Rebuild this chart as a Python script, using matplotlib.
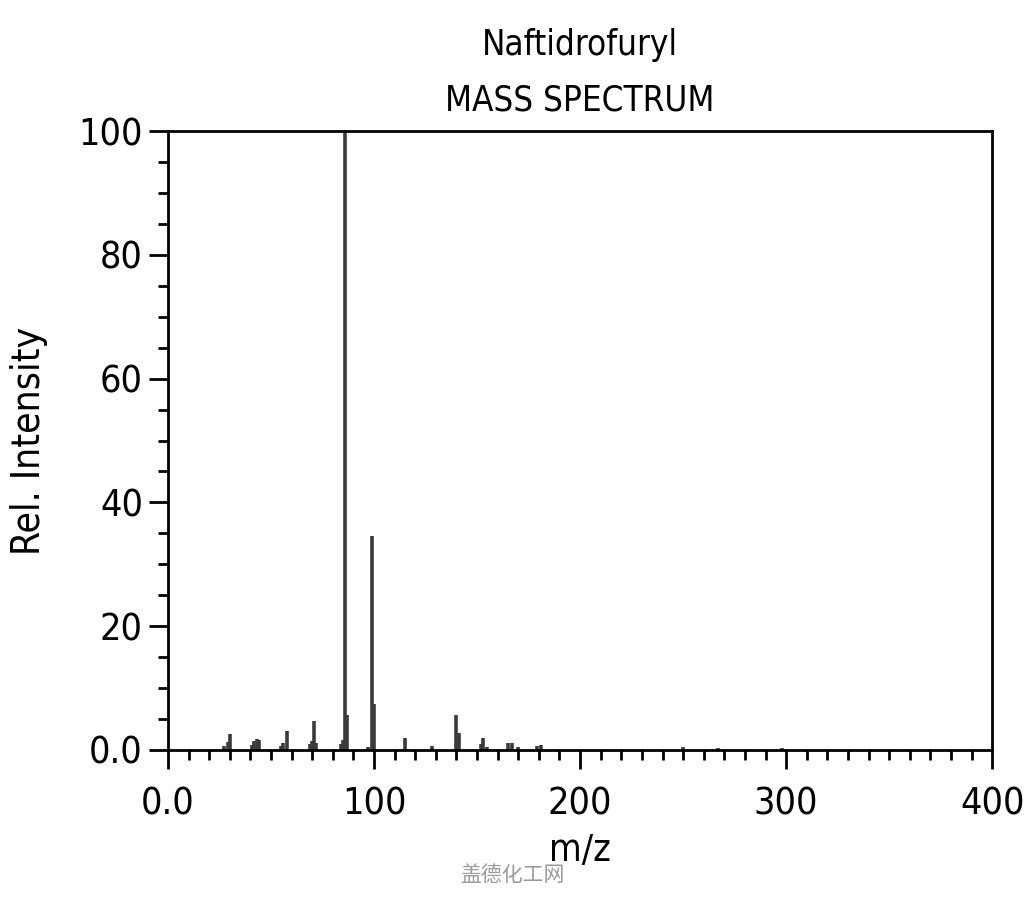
import matplotlib
matplotlib.use("Agg")
from matplotlib import pyplot as plt
from matplotlib.ticker import MultipleLocator

plt.rcParams["font.family"] = ["DejaVu Sans", "Noto Sans CJK SC"]
plt.rcParams["font.stretch"] = "condensed"

# peaks
mz = [27, 29, 30, 41, 42, 43, 44, 55, 56, 58, 69, 70, 71, 72, 84, 85, 86, 87,
      97, 99, 100, 115, 128, 140, 141, 152, 153, 155, 165, 167, 170, 179, 181,
      250, 267, 298]
intensity = [0.7, 1.3, 2.6, 0.8, 1.5, 1.8, 1.6, 0.7, 1.1, 3.1, 0.9, 1.4, 4.6, 1.2,
             1.0, 1.6, 100, 5.6, 0.5, 34.6, 7.4, 2.0, 0.6, 5.6, 2.7, 1.0, 2.0, 0.4,
             1.1, 1.1, 0.5, 0.7, 0.8, 0.4, 0.3, 0.3]

x_ticks = [0, 100, 200, 300, 400]
x_labels = ["0.0", "100", "200", "300", "400"]
y_ticks = [0, 20, 40, 60, 80, 100]
y_labels = ["0.0", "20", "40", "60", "80", "100"]

fig = plt.figure(figsize=(10.24, 9), dpi=100)
ax = fig.add_axes([0.164, 0.1667, 0.805, 0.6877])

ax.vlines(mz, 0, intensity, color="#3a3a3a", linewidth=2.6)

ax.set_xlim(0, 400)
ax.set_ylim(0, 100)
ax.set_xticks(x_ticks)
ax.set_xticklabels(x_labels)
ax.set_yticks(y_ticks)
ax.set_yticklabels(y_labels)
ax.xaxis.set_minor_locator(MultipleLocator(10))
ax.yaxis.set_minor_locator(MultipleLocator(5))
ax.tick_params(axis="both", which="major", labelsize=27, width=2, length=14,
               direction="out", color="black")
ax.tick_params(axis="x", which="major", pad=12)
ax.tick_params(axis="y", which="major", pad=4)
ax.tick_params(axis="both", which="minor", width=2, length=7, direction="out")
for s in ax.spines.values():
    s.set_linewidth(2)

ax.set_xlabel("m/z", fontsize=27, labelpad=8)
ax.set_ylabel("Rel. Intensity", fontsize=28, labelpad=22)

fig.text(0.566, 0.95, "Naftidrofuryl", ha="center", va="center", fontsize=25)
fig.text(0.566, 0.888, "MASS SPECTRUM", ha="center", va="center", fontsize=25)
fig.text(0.5, 0.028, "盖德化工网", ha="center", va="center", fontsize=15,
         color="#9a9a9a", family=["Noto Sans CJK SC", "DejaVu Sans"])

fig.savefig("out.png", dpi=100)
